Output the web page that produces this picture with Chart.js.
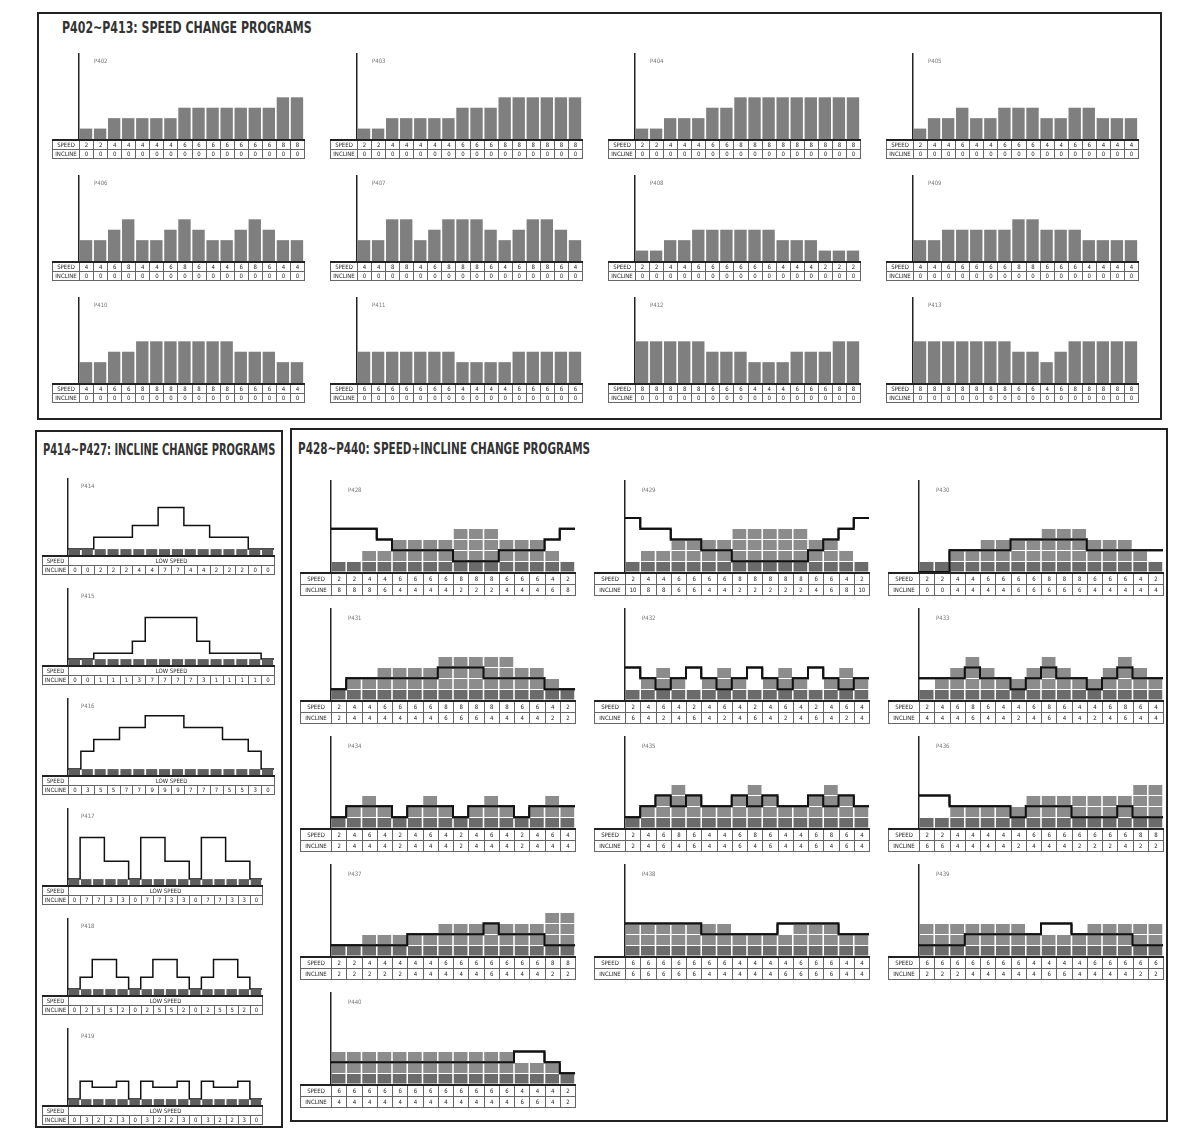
<!DOCTYPE html>
<html>
<head>
<meta charset="utf-8">
<script src="https://cdn.jsdelivr.net/npm/chart.js@4.4.0/dist/chart.umd.min.js"></script>
<style>
body { margin: 0; background: #fff; width: 1194px; height: 1129px; position: relative; overflow: hidden;
  font-family: "Liberation Sans Narrow", "DejaVu Sans Condensed", sans-serif; }
.box { position: absolute; border: 2px solid #222; box-sizing: border-box; }
.title { position: absolute; font-weight: bold; font-size: 16px; color: #333; white-space: nowrap; transform-origin: 0 0; }
.plot { position: absolute; }
.plabel { position: absolute; font-size: 6px; color: #777; }
table.t { position: absolute; border-collapse: collapse; table-layout: fixed; font-size: 6px; color: #222; }
table.t td { border: 1px solid #666; padding: 0; text-align: center; overflow: hidden; white-space: nowrap; line-height: 1; }
table.t tr:first-child td { border-top: 2px solid #222; }
</style>
</head>
<body>
<script>
// ---- data ----
const segments = ['1','2','3','4','5','6','7','8','9','10','11','12','13','14','15','16'];
const rowLabels = ['SPEED', 'INCLINE'];
const sectionTitles = [
  'P402~P413: SPEED CHANGE PROGRAMS',
  'P414~P427: INCLINE CHANGE PROGRAMS',
  'P428~P440: SPEED+INCLINE CHANGE PROGRAMS'
];

// speed change programs
const speedNames = ['P402','P403','P404','P405','P406','P407','P408','P409','P410','P411','P412','P413'];
const speedSpeeds = [
  [2,2,4,4,4,4,4,6,6,6,6,6,6,6,8,8],
  [2,2,4,4,4,4,4,6,6,6,8,8,8,8,8,8],
  [2,2,4,4,4,6,6,8,8,8,8,8,8,8,8,8],
  [2,4,4,6,4,4,6,6,6,4,4,6,6,4,4,4],
  [4,4,6,8,4,4,6,8,6,4,4,6,8,6,4,4],
  [4,4,8,8,4,6,8,8,8,6,4,6,8,8,6,4],
  [2,2,4,4,6,6,6,6,6,6,4,4,4,2,2,2],
  [4,4,6,6,6,6,6,8,8,6,6,6,4,4,4,4],
  [4,4,6,6,8,8,8,8,8,8,8,6,6,6,4,4],
  [6,6,6,6,6,6,6,4,4,4,4,6,6,6,6,6],
  [8,8,8,8,8,6,6,6,4,4,4,6,6,6,8,8],
  [8,8,8,8,8,8,8,6,6,4,6,8,8,8,8,8]
];
const speedIncline = [0,0,0,0,0,0,0,0,0,0,0,0,0,0,0,0];

// incline change programs
const inclineNames = ['P414','P415','P416','P417','P418','P419'];
const inclineValues = [
  [0,0,2,2,2,4,4,7,7,4,4,2,2,2,0,0],
  [0,0,1,1,1,3,7,7,7,7,3,1,1,1,1,0],
  [0,3,5,5,7,7,9,9,9,7,7,7,5,5,3,0],
  [0,7,7,3,3,0,7,7,3,3,0,7,7,3,3,0],
  [0,2,5,5,2,0,2,5,5,2,0,2,5,5,2,0],
  [0,3,2,2,3,0,3,2,2,3,0,3,2,2,3,0]
];
const lowSpeed = [1,1,1,1,1,1,1,1,1,1,1,1,1,1,1,1];
const lowSpeedText = 'LOW SPEED';

// speed + incline change programs
const comboNames = ['P428','P429','P430','P431','P432','P433','P434','P435','P436','P437','P438','P439','P440'];
const comboSpeeds = [
  [2,2,4,4,6,6,6,6,8,8,8,6,6,6,4,2],
  [2,4,4,6,6,6,6,8,8,8,8,8,6,6,4,2],
  [2,2,4,4,6,6,6,6,8,8,8,6,6,6,4,2],
  [2,4,4,6,6,6,6,8,8,8,8,8,6,6,4,2],
  [2,4,6,4,2,4,6,4,2,4,6,4,2,4,6,4],
  [2,4,6,8,6,4,4,6,8,6,4,4,6,8,6,4],
  [2,4,6,4,2,4,6,4,2,4,6,4,2,4,6,4],
  [2,4,6,8,6,4,4,6,8,6,4,4,6,8,6,4],
  [2,2,4,4,4,4,4,6,6,6,6,6,6,6,8,8],
  [2,2,4,4,4,4,4,6,6,6,6,6,6,6,8,8],
  [6,6,6,6,6,6,6,4,4,4,4,6,6,6,4,4],
  [6,6,6,6,6,6,6,4,4,4,4,6,6,6,6,6],
  [6,6,6,6,6,6,6,6,6,6,6,6,4,4,4,2]
];
const comboInclines = [
  [8,8,8,6,4,4,4,4,2,2,2,4,4,4,6,8],
  [10,8,8,6,6,4,4,2,2,2,2,2,4,6,8,10],
  [0,0,4,4,4,4,6,6,6,6,6,4,4,4,4,4],
  [2,4,4,4,4,4,4,6,6,6,4,4,4,4,2,2],
  [6,4,2,4,6,4,2,4,6,4,2,4,6,4,2,4],
  [4,4,4,6,4,4,2,4,6,4,4,2,4,6,4,4],
  [2,4,4,4,2,4,4,4,2,4,4,4,2,4,4,4],
  [2,4,6,4,6,4,4,6,4,6,4,4,6,4,6,4],
  [6,6,4,4,4,4,2,4,4,4,2,2,2,4,2,2],
  [2,2,2,2,2,4,4,4,4,4,6,4,4,4,2,2],
  [6,6,6,6,6,4,4,4,4,4,6,6,6,6,4,4],
  [2,2,2,4,4,4,4,4,6,6,4,4,4,4,2,2],
  [4,4,4,4,4,4,4,4,4,4,4,4,6,6,4,2]
];

// ---- drawing ----
Chart.defaults.animation = false;
Chart.defaults.font.family = '"Liberation Sans Narrow", "DejaVu Sans Condensed", sans-serif';

const page = document.body;

// keeps the incline line above the white block lines
const lineOnTop = {
  id: 'lineOnTop',
  afterDraw(chart) {
    const meta = chart.getDatasetMeta(1);
    if (meta && meta.type === 'line') meta.controller.draw();
  }
};

function addDiv(cls, left, top, w, h, text) {
  const d = document.createElement('div');
  d.className = cls;
  d.style.left = left + 'px';
  d.style.top = top + 'px';
  if (w) d.style.width = w + 'px';
  if (h) d.style.height = h + 'px';
  if (text) d.textContent = text;
  page.appendChild(d);
  return d;
}

function addTitle(text, left, top, targetW) {
  const d = addDiv('title', left, top, 0, 0, text);
  const w = d.scrollWidth || d.getBoundingClientRect().width;
  d.style.transform = 'scaleX(' + (targetW / w) + ')';
}

function makeTable(x, y, labelW, plotW, rowH, rows) {
  const t = document.createElement('table');
  t.className = 't';
  t.style.left = x + 'px';
  t.style.top = y + 'px';
  t.style.width = (labelW + plotW) + 'px';
  const cg = document.createElement('colgroup');
  const c0 = document.createElement('col');
  c0.style.width = labelW + 'px';
  cg.appendChild(c0);
  segments.forEach(() => {
    const c = document.createElement('col');
    c.style.width = (plotW / segments.length) + 'px';
    cg.appendChild(c);
  });
  t.appendChild(cg);
  rows.forEach(r => {
    const tr = t.insertRow();
    tr.style.height = rowH + 'px';
    tr.insertCell().textContent = r.label;
    if (r.span) {
      const td = tr.insertCell();
      td.colSpan = segments.length;
      td.textContent = r.span;
    } else {
      r.cells.forEach(v => { tr.insertCell().textContent = v; });
    }
  });
  page.appendChild(t);
}

function makeChart(x, y, w, h, config) {
  const d = addDiv('plot', x - 1, y, w + 1, h);
  const c = document.createElement('canvas');
  c.width = w + 1;
  c.height = h;
  d.appendChild(c);
  config.options.responsive = false;
  return new Chart(c, config);
}

function baseOptions(ymax) {
  return {
    animation: false,
    layout: { padding: { left: 1, top: 0, right: 0, bottom: 0 } },
    plugins: { legend: { display: false }, tooltip: { enabled: false } },
    scales: {
      x: { type: 'category', display: false, offset: true, grid: { display: false } },
      x2: { type: 'linear', min: 0, max: segments.length, display: false, offset: false, grid: { offset: false } },
      y: { min: 0, max: ymax, ticks: { display: false }, grid: { display: false, drawTicks: false },
           border: { display: true, color: '#222', width: 1.5, z: 2 } }
    }
  };
}

function barSet(values, color, pct) {
  return { type: 'bar', data: values, xAxisID: 'x', yAxisID: 'y', backgroundColor: color, borderWidth: 0,
           grouped: false, barPercentage: pct, categoryPercentage: 1 };
}

// darker first block row, lighter blocks above it
function blockShade(ctx) {
  const chart = ctx.chart;
  const area = chart.chartArea;
  if (!area) return '#858585';
  if (!chart.$shade) {
    const y = chart.scales.y;
    const split = (y.getPixelForValue(0) - y.getPixelForValue(2)) / (area.bottom - area.top);
    const g = chart.ctx.createLinearGradient(0, area.bottom, 0, area.top);
    g.addColorStop(0, '#6b6b6b');
    g.addColorStop(split, '#6b6b6b');
    g.addColorStop(split, '#8c8c8c');
    g.addColorStop(1, '#8c8c8c');
    chart.$shade = g;
  }
  return chart.$shade;
}

function stepPoints(values) {
  const pts = values.map((v, i) => ({ x: i, y: v }));
  pts.push({ x: values.length, y: values[values.length - 1] });
  return pts;
}

function stepLine(values, yAxis, width) {
  return {
    type: 'line', data: stepPoints(values), xAxisID: 'x2', yAxisID: yAxis,
    stepped: true, borderColor: '#111', borderWidth: width, pointRadius: 0, fill: false, clip: false
  };
}

// section frames and titles
addDiv('box', 37, 12, 1125, 408);
addDiv('box', 35, 430, 248, 698);
addDiv('box', 290, 428, 878, 694);
addTitle(sectionTitles[0], 62, 18, 250);
addTitle(sectionTitles[1], 43, 440, 232);
addTitle(sectionTitles[2], 298, 439, 292);

// speed change programs: 4 x 3
speedNames.forEach((name, k) => {
  const col = k % 4, row = Math.floor(k / 4);
  const tx = 52 + 278 * col, top = 53 + 122 * row;
  const labelW = 27, plotW = 225, plotH = 86, rowH = 9;
  const ax = tx + labelW;
  makeChart(ax, top, plotW, plotH, {
    type: 'bar',
    data: { labels: segments, datasets: [barSet(speedSpeeds[k], '#7f7f7f', 0.88)] },
    options: baseOptions(16.5)
  });
  addDiv('plabel', ax + 15, top + 4, 0, 0, name);
  makeTable(tx, top + plotH, labelW, plotW, rowH, [
    { label: rowLabels[0], cells: speedSpeeds[k] },
    { label: rowLabels[1], cells: speedIncline }
  ]);
});

// incline change programs: single column
inclineNames.forEach((name, k) => {
  const tx = 42, top = 478 + 110 * k;
  const labelW = 26, plotW = k < 3 ? 206 : 194, plotH = 77, rowH = 9;
  const ax = tx + labelW;
  const opts = baseOptions(13);
  opts.scales.yi = { type: 'linear', min: -1, max: 12, display: false };
  makeChart(ax, top, plotW, plotH, {
    type: 'bar',
    data: { labels: segments, datasets: [
      barSet(lowSpeed, '#5e5e5e', 0.86),
      stepLine(inclineValues[k], 'yi', 1.5)
    ] },
    options: opts
  });
  addDiv('plabel', ax + 13, top + 4, 0, 0, name);
  makeTable(tx, top + plotH, labelW, plotW, rowH, [
    { label: rowLabels[0], span: lowSpeedText },
    { label: rowLabels[1], cells: inclineValues[k] }
  ]);
});

// speed + incline change programs: 3 columns
comboNames.forEach((name, k) => {
  const col = k % 3, row = Math.floor(k / 3);
  const tx = 300 + 294 * col, top = 480 + 128 * row;
  const labelW = 31, plotW = 244, plotH = 92, rowH = 11;
  const ax = tx + labelW;
  const opts = baseOptions(17);
  opts.scales.y.ticks = { display: false, stepSize: 2 };
  opts.scales.y.grid = { display: true, color: '#ffffff', lineWidth: 1, drawTicks: false, z: 1 };
  makeChart(ax, top, plotW, plotH, {
    type: 'bar',
    data: { labels: segments, datasets: [
      barSet(comboSpeeds[k], blockShade, 0.9),
      stepLine(comboInclines[k], 'y', 2)
    ] },
    options: opts,
    plugins: [lineOnTop]
  });
  addDiv('plabel', ax + 17, top + 6, 0, 0, name);
  makeTable(tx, top + plotH, labelW, plotW, rowH, [
    { label: rowLabels[0], cells: comboSpeeds[k] },
    { label: rowLabels[1], cells: comboInclines[k] }
  ]);
});
</script>
</body>
</html>
